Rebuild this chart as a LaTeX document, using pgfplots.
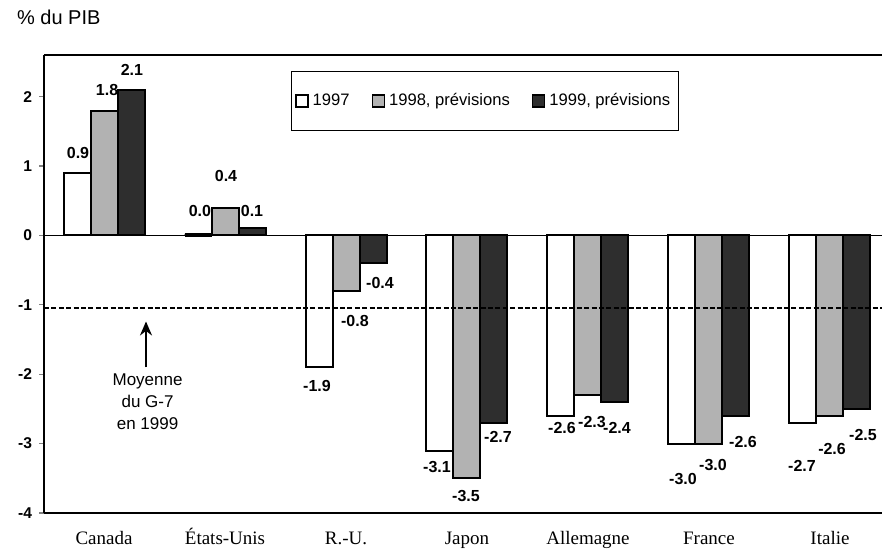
\documentclass[border=0pt]{standalone}
\usepackage{pgfplots}
\pgfplotsset{compat=1.18}
\usetikzlibrary{arrows.meta}
\usepackage{fontspec}
\setmainfont{Liberation Sans}
\newfontfamily\serifcat{Liberation Serif}
\begin{document}
\begin{tikzpicture}
\begin{axis}[
  at={(0,0)}, anchor=south west,
  scale only axis, width=419pt, height=229pt,
  xmin=-0.496, xmax=6.43, ymin=-4, ymax=2.6,
  axis x line*=box, axis y line*=left,
  axis line style={line width=0.7pt},
  xtick={0,...,6},
  xticklabels={Canada,États-Unis,R.-U.,Japon,Allemagne,France,Italie},
  x tick style={draw=none},
  xticklabel style={font=\serifcat\fontsize{9.5}{11}\selectfont, anchor=base, yshift=-13pt},
  ytick={-4,-3,-2,-1,0,1,2},
  y tick style={line width=0.6pt},
  tick align=outside, major tick length=2.5pt,
  yticklabel style={font=\bfseries\fontsize{7.8}{9}\selectfont},
  /pgf/number format/assume math mode=true,
  clip=false,
  legend columns=3,
  legend style={at={(0.526,0.9)}, anchor=center, draw=black, line width=0.6pt,
    font=\fontsize{8.3}{10}\selectfont, inner ysep=9pt, inner xsep=2pt,
    /tikz/every even column/.append style={column sep=9pt}},
  legend cell align=left,
  barleg/.style={legend image code/.code={\draw[##1,line width=0.7pt] (0pt,-3pt) rectangle (6pt,3pt);}},
]
\addplot[ybar, bar width=13.5pt, bar shift=-13.5pt, fill=white, draw=black, line width=1pt, barleg]
  coordinates {(0,0.9) (1,0.0) (2,-1.9) (3,-3.1) (4,-2.6) (5,-3.0) (6,-2.7)};
\addlegendentry{1997}
\addplot[ybar, bar width=13.5pt, bar shift=0pt, fill=black!30, draw=black, line width=1pt, barleg]
  coordinates {(0,1.8) (1,0.4) (2,-0.8) (3,-3.5) (4,-2.3) (5,-3.0) (6,-2.6)};
\addlegendentry{1998, prévisions}
\addplot[ybar, bar width=13.5pt, bar shift=13.5pt, fill=black!82, draw=black, line width=1pt, barleg]
  coordinates {(0,2.1) (1,0.1) (2,-0.4) (3,-2.7) (4,-2.4) (5,-2.6) (6,-2.5)};
\addlegendentry{1999, prévisions}
\addplot[black, line width=0.7pt, forget plot] coordinates {(-0.496,0) (6.43,0)};
\addplot[black, line width=2pt, forget plot] coordinates {(0.667,0.01) (0.889,0.01)};
\addplot[black, line width=1.1pt, dash pattern=on 2.5pt off 1.2pt, forget plot] coordinates {(-0.496,-1.05) (6.43,-1.05)};
\addplot[black, line width=1.1pt, -{Stealth[length=7pt,width=6pt]}, forget plot] coordinates {(0.347,-1.90) (0.347,-1.24)};
% data labels
\begin{scope}[every node/.style={font=\bfseries\fontsize{8}{9}\selectfont, inner sep=0pt}]
\node at (axis cs:-0.215,1.19) {0.9};
\node at (axis cs:0.025,2.09) {1.8};
\node at (axis cs:0.231,2.39) {2.1};
\node at (axis cs:0.793,0.345) {0.0};
\node at (axis cs:1.008,0.85) {0.4};
\node at (axis cs:1.223,0.345) {0.1};
\node at (axis cs:1.760,-2.17) {-1.9};
\node at (axis cs:2.074,-1.24) {-0.8};
\node at (axis cs:2.281,-0.68) {-0.4};
\node at (axis cs:2.752,-3.34) {-3.1};
\node at (axis cs:2.992,-3.76) {-3.5};
\node at (axis cs:3.256,-2.91) {-2.7};
\node at (axis cs:3.785,-2.78) {-2.6};
\node at (axis cs:4.033,-2.69) {-2.3};
\node at (axis cs:4.240,-2.78) {-2.4};
\node at (axis cs:4.785,-3.51) {-3.0};
\node at (axis cs:5.033,-3.31) {-3.0};
\node at (axis cs:5.281,-2.98) {-2.6};
\node at (axis cs:5.769,-3.32) {-2.7};
\node at (axis cs:6.017,-3.08) {-2.6};
\node at (axis cs:6.273,-2.88) {-2.5};
\end{scope}
\node[font=\fontsize{8.5}{11}\selectfont, align=center] at (axis cs:0.36,-2.40) {Moyenne\\du G-7\\en 1999};
\node[font=\fontsize{10}{12}\selectfont, anchor=base west] at ([xshift=-17pt, yshift=15.5pt]rel axis cs:0,1) {\% du PIB};
\end{axis}
\pgfresetboundingbox
\path[use as bounding box] (-22pt,-20.5pt) rectangle (419.5pt,256.5pt);
\end{tikzpicture}
\end{document}
